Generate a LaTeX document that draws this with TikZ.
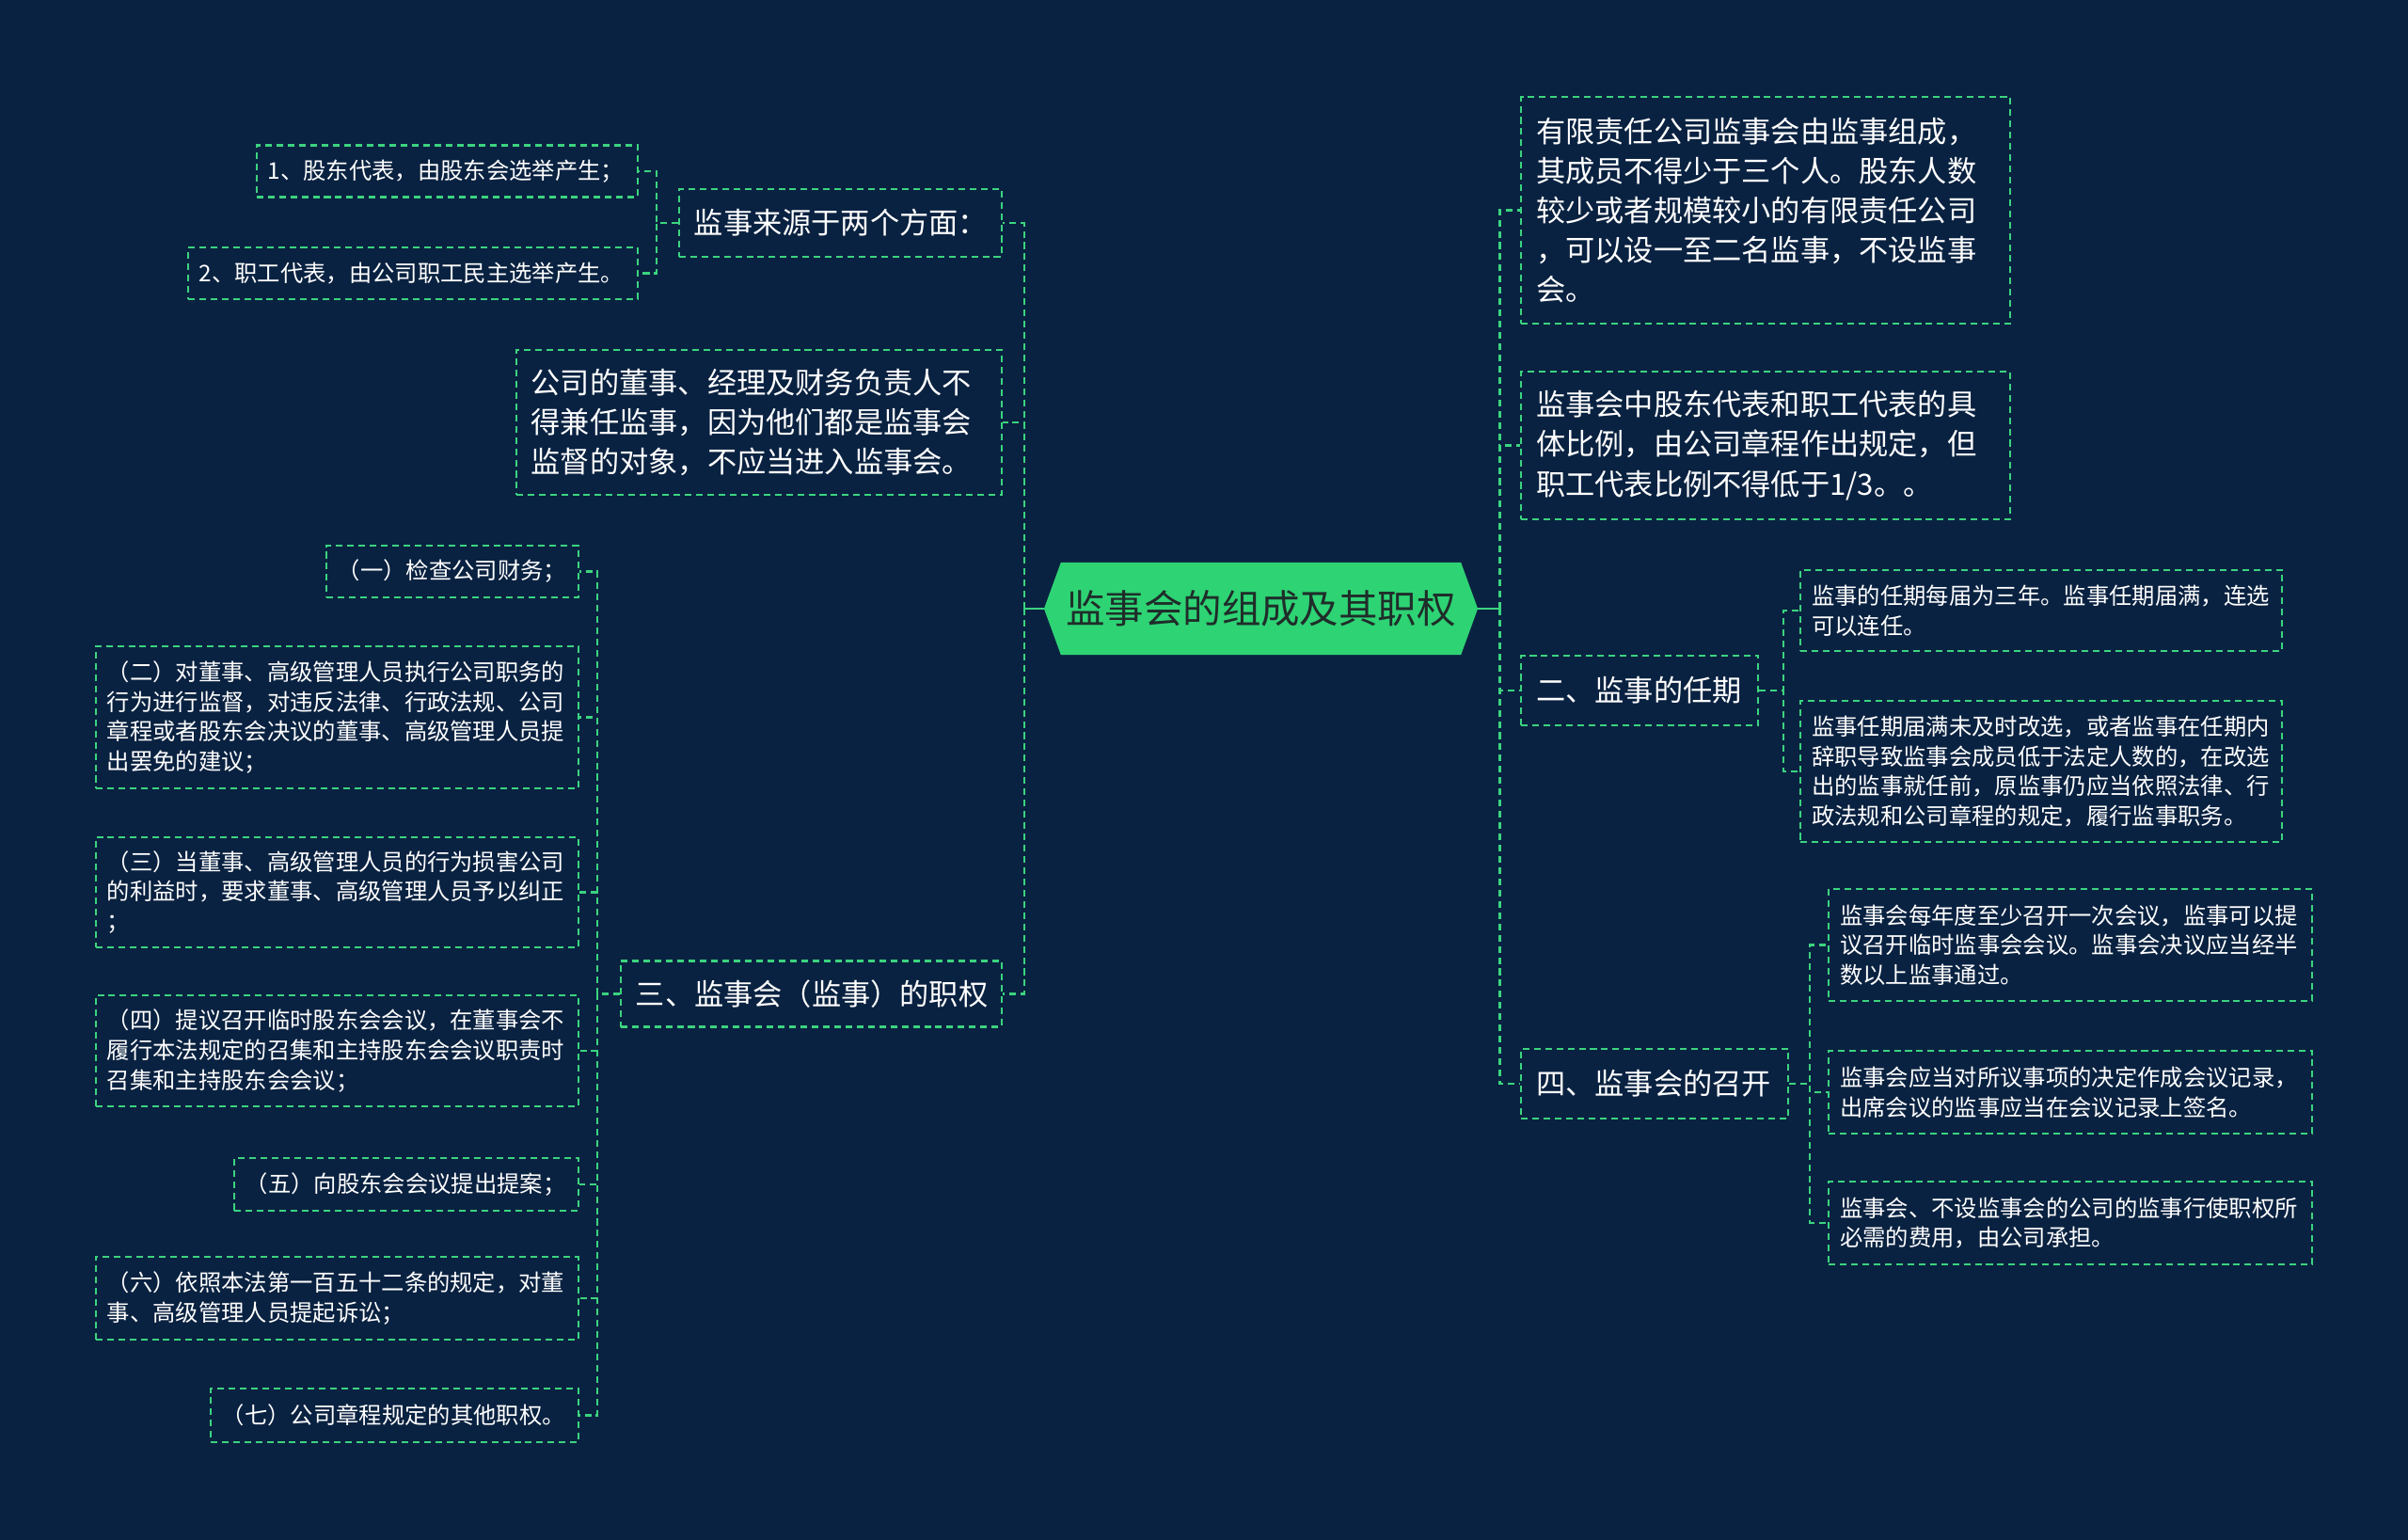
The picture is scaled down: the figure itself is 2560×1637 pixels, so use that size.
\documentclass[tikz,border=0pt]{standalone}
\usepackage{fontspec}
\setmainfont{Noto Sans CJK SC}
\usetikzlibrary{shapes.symbols}

\definecolor{navy}{HTML}{0A2241}
\definecolor{mint}{HTML}{3BD47F}
\definecolor{rootfill}{HTML}{2ED374}
\definecolor{rootink}{HTML}{1F2D2A}

\begin{document}
\begin{tikzpicture}[
    x=0.025cm, y=-0.025cm,
    topic/.style={draw=mint, line width=1.6pt, dash pattern=on 5pt off 3.5pt, rectangle, align=left, text=white, inner xsep=0.4cm, inner ysep=0.2cm, font=\fontsize{22.2}{30}\selectfont},
    leaf/.style={draw=mint, line width=1.6pt, dash pattern=on 5pt off 3.5pt, rectangle, align=left, text=white, inner xsep=0.3cm, inner ysep=0.2cm, font=\fontsize{17.3}{22.5}\selectfont},
    link/.style={mint, line width=1.6pt, dash pattern=on 5pt off 3.5pt},
    stem/.style={mint, line width=1.6pt}
]
    \fill[navy] (0,0) rectangle (2560,1637);

    \node[signal, signal to=west and east, signal pointer angle=140, fill=rootfill, text=rootink, minimum width=11.525cm, minimum height=2.45cm, inner sep=0pt, font=\fontsize{29.5}{36}\selectfont] (root) at (1340.5,647) {监事会的组成及其职权};

    % left side
    \node[topic, anchor=east, text width=7.775cm, minimum height=1.8cm] (source) at (1066,237) {监事来源于两个方面：};
    \node[topic, anchor=east, text width=12.1cm, minimum height=3.85cm] (ban) at (1066,449) {公司的董事、经理及财务负责人不\\得兼任监事，因为他们都是监事会\\监督的对象，不应当进入监事会。};
    \node[topic, anchor=east, text width=9.325cm, minimum height=1.75cm] (powers) at (1066,1056.5) {三、监事会（监事）的职权};

    \node[leaf, anchor=east, text width=9.525cm, minimum height=1.375cm] (holder) at (679,182) {1、股东代表，由股东会选举产生；};
    \node[leaf, anchor=east, text width=11.35cm, minimum height=1.375cm] (staff) at (679,290.5) {2、职工代表，由公司职工民主选举产生。};

    \node[leaf, anchor=east, text width=6.1cm, minimum height=1.375cm] (pw1) at (616,607.5) {（一）检查公司财务；};
    \node[leaf, anchor=east, text width=12.225cm, minimum height=3.775cm] (pw2) at (616,762.5) {（二）对董事、高级管理人员执行公司职务的\\行为进行监督，对违反法律、行政法规、公司\\章程或者股东会决议的董事、高级管理人员提\\出罢免的建议；};
    \node[leaf, anchor=east, text width=12.225cm, minimum height=2.925cm] (pw3) at (616,948.5) {（三）当董事、高级管理人员的行为损害公司\\的利益时，要求董事、高级管理人员予以纠正\\；};
    \node[leaf, anchor=east, text width=12.225cm, minimum height=2.95cm] (pw4) at (616,1117) {（四）提议召开临时股东会会议，在董事会不\\履行本法规定的召集和主持股东会会议职责时\\召集和主持股东会会议；};
    \node[leaf, anchor=east, text width=8.55cm, minimum height=1.4cm] (pw5) at (616,1259) {（五）向股东会会议提出提案；};
    \node[leaf, anchor=east, text width=12.225cm, minimum height=2.2cm] (pw6) at (616,1380) {（六）依照本法第一百五十二条的规定，对董\\事、高级管理人员提起诉讼；};
    \node[leaf, anchor=east, text width=9.175cm, minimum height=1.425cm] (pw7) at (616,1504.5) {（七）公司章程规定的其他职权。};

    % right side
    \node[topic, anchor=west, text width=12.2cm, minimum height=6.025cm] (size) at (1616,223.5) {有限责任公司监事会由监事组成，\\其成员不得少于三个人。股东人数\\较少或者规模较小的有限责任公司\\，可以设一至二名监事，不设监事\\会。};
    \node[topic, anchor=west, text width=12.2cm, minimum height=3.925cm] (ratio) at (1616,473.5) {监事会中股东代表和职工代表的具\\体比例，由公司章程作出规定，但\\职工代表比例不得低于1/3。。};
    \node[topic, anchor=west, text width=5.5cm, minimum height=1.85cm] (term) at (1616,734) {二、监事的任期};
    \node[topic, anchor=west, text width=6.3cm, minimum height=1.85cm] (meeting) at (1616,1152) {四、监事会的召开};

    \node[leaf, anchor=west, text width=12.2cm, minimum height=2.15cm] (tm1) at (1913,649) {监事的任期每届为三年。监事任期届满，连选\\可以连任。};
    \node[leaf, anchor=west, text width=12.2cm, minimum height=3.75cm] (tm2) at (1913,820) {监事任期届满未及时改选，或者监事在任期内\\辞职导致监事会成员低于法定人数的，在改选\\出的监事就任前，原监事仍应当依照法律、行\\政法规和公司章程的规定，履行监事职务。};

    \node[leaf, anchor=west, text width=12.25cm, minimum height=2.975cm] (mt1) at (1943,1004.5) {监事会每年度至少召开一次会议，监事可以提\\议召开临时监事会会议。监事会决议应当经半\\数以上监事通过。};
    \node[leaf, anchor=west, text width=12.25cm, minimum height=2.2cm] (mt2) at (1943,1161) {监事会应当对所议事项的决定作成会议记录，\\出席会议的监事应当在会议记录上签名。};
    \node[leaf, anchor=west, text width=12.25cm, minimum height=2.2cm] (mt3) at (1943,1300) {监事会、不设监事会的公司的监事行使职权所\\必需的费用，由公司承担。};

    % links
    \draw[stem] (root.west) -- ++(-21,0) coordinate (lbus);
    \draw[stem] (root.east) -- ++(23,0) coordinate (rbus);
    \draw[link] (lbus) |- (source.east);
    \draw[link] (lbus) |- (ban.east);
    \draw[link] (lbus) |- (powers.east);
    \draw[link] (rbus) |- (size.west);
    \draw[link] (rbus) |- (ratio.west);
    \draw[link] (rbus) |- (term.west);
    \draw[link] (rbus) |- (meeting.west);

    \draw[link] (source.west) -- ++(-23,0) |- (holder.east);
    \draw[link] (source.west) -- ++(-23,0) |- (staff.east);

    \draw[link] (powers.west) -- ++(-24,0) |- (pw1.east);
    \draw[link] (powers.west) -- ++(-24,0) |- (pw2.east);
    \draw[link] (powers.west) -- ++(-24,0) |- (pw3.east);
    \draw[link] (powers.west) -- ++(-24,0) |- (pw4.east);
    \draw[link] (powers.west) -- ++(-24,0) |- (pw5.east);
    \draw[link] (powers.west) -- ++(-24,0) |- (pw6.east);
    \draw[link] (powers.west) -- ++(-24,0) |- (pw7.east);

    \draw[link] (term.east) -- ++(26,0) |- (tm1.west);
    \draw[link] (term.east) -- ++(26,0) |- (tm2.west);

    \draw[link] (meeting.east) -- ++(22,0) |- (mt1.west);
    \draw[link] (meeting.east) -- ++(22,0) |- (mt2.west);
    \draw[link] (meeting.east) -- ++(22,0) |- (mt3.west);

\end{tikzpicture}
\end{document}
